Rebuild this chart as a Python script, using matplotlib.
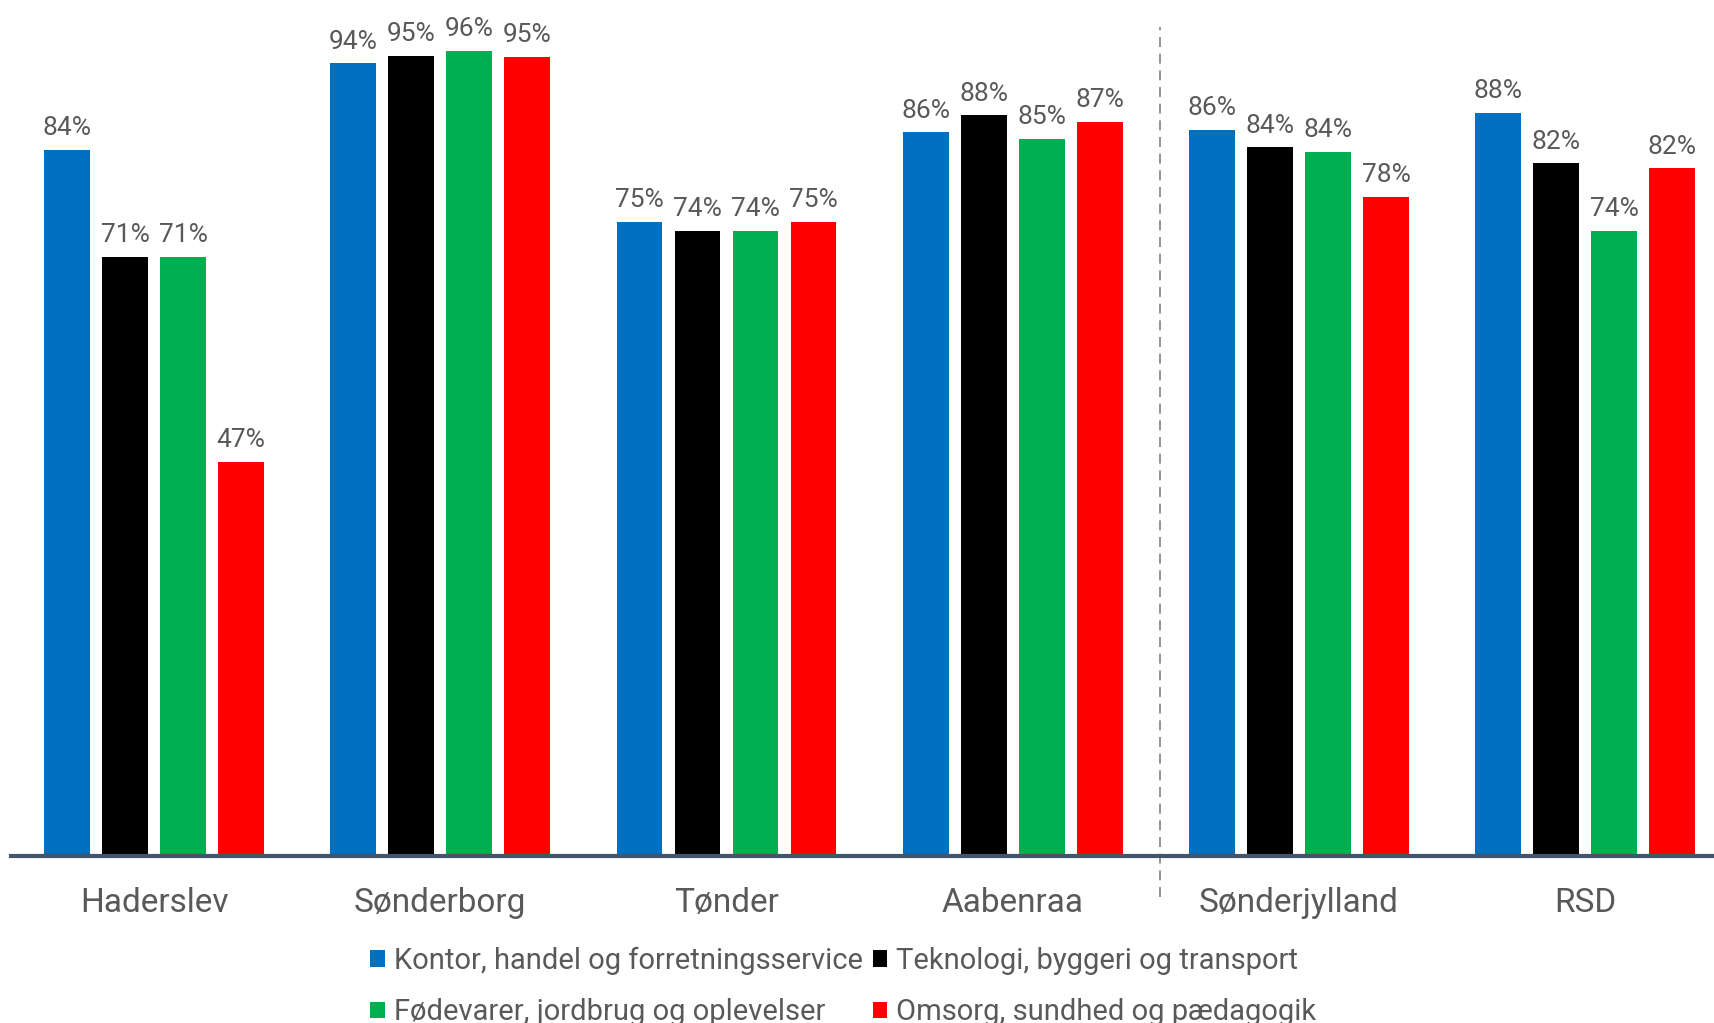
import matplotlib.pyplot as plt
import numpy as np

# data
kommuner = ['Haderslev', 'Sønderborg', 'Tønder', 'Aabenraa', 'Sønderjylland', 'RSD']
kontor = [0.840, 0.943, 0.754, 0.861, 0.864, 0.884]
teknologi = [0.713, 0.952, 0.744, 0.881, 0.843, 0.824]
foedevarer = [0.713, 0.958, 0.744, 0.853, 0.838, 0.744]
omsorg = [0.469, 0.951, 0.754, 0.873, 0.784, 0.818]

serier = ['Kontor, handel og forretningsservice', 'Teknologi, byggeri og transport',
          'Fødevarer, jordbrug og oplevelser', 'Omsorg, sundhed og pædagogik']
farver = ['#0070C0', '#000000', '#00B050', '#FF0000']

plt.rcParams['font.family'] = ['Roboto', 'DejaVu Sans']
tekstfarve = '#595959'

fig = plt.figure(figsize=(17.14, 10.23), dpi=100)
ax = fig.add_axes([0.0064, 0.163, 0.9936, 0.822])

x = np.arange(len(kommuner))
step = 0.2028
width = 0.16
bars = []
for i, (vals, col) in enumerate(zip([kontor, teknologi, foedevarer, omsorg], farver)):
    b = ax.bar(x + (i - 1.5) * step, vals, width, color=col, label=serier[i])
    bars.append(b)
    for xi, v in zip(x + (i - 1.5) * step, vals):
        ax.annotate(f'{round(v*100):.0f}%', (xi, v), xytext=(0, 7), textcoords='offset points',
                    ha='center', va='bottom', fontsize=19, color=tekstfarve)

ax.set_xlim(-0.5, 5.45)
ax.set_ylim(0, 1.0)

# skillelinje mellem kommuner og samlet
ax.plot([3.515, 3.515], [-0.048, 0.986], color='#808080', lw=1.2, ls=(0, (6, 4)), clip_on=False)

for s in ['top', 'right', 'left']:
    ax.spines[s].set_visible(False)
ax.spines['bottom'].set_color('#44546A')
ax.spines['bottom'].set_linewidth(3)
ax.set_yticks([])
ax.set_xticks(x)
ax.set_xticklabels(kommuner, fontsize=24, color=tekstfarve)
ax.tick_params(axis='x', length=0, pad=22)

order = [0, 2, 1, 3]
fig.legend([bars[i] for i in order], [serier[i] for i in order], ncol=2,
           loc='upper center', bbox_to_anchor=(0.492, 0.086), frameon=False,
           fontsize=21, labelcolor=tekstfarve, handlelength=0.5, handleheight=0.5,
           handletextpad=0.3, columnspacing=0.35, labelspacing=0.8, borderaxespad=0)

plt.savefig('out.png', dpi=100)
